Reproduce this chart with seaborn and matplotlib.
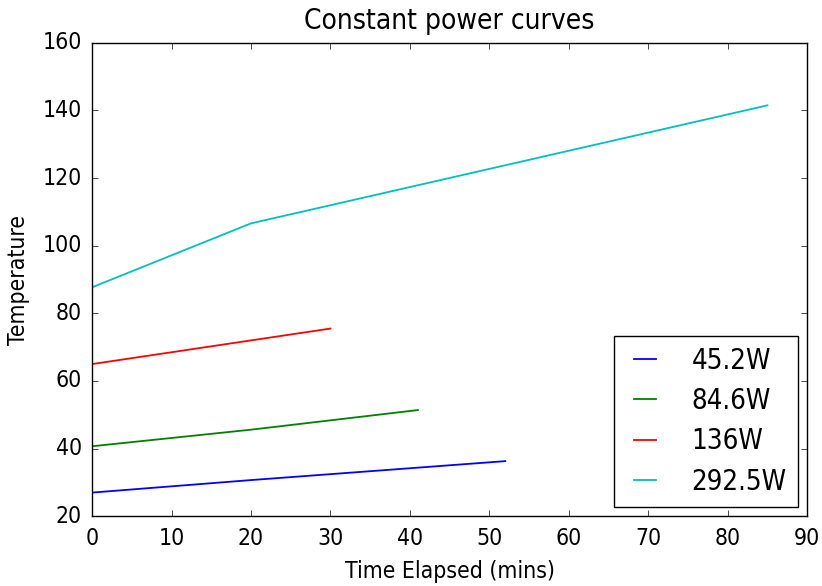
import matplotlib
matplotlib.use("Agg")
import matplotlib.pyplot as plt
from matplotlib import font_manager
import seaborn as sns
import pandas as pd

labels = ["45.2W", "84.6W", "136W", "292.5W"]
t_45 = [0, 20, 52]
y_45 = [27.0, 30.7, 36.3]
t_84 = [0, 20, 41]
y_84 = [40.7, 45.6, 51.4]
t_136 = [0, 30]
y_136 = [65.0, 75.5]
t_292 = [0, 20, 85]
y_292 = [87.7, 106.6, 141.5]

plt.style.use("classic")
plt.rcParams["font.family"] = ["DejaVu Sans"]
fp = font_manager.FontProperties(family="DejaVu Sans", stretch="condensed")
fname = font_manager.findfont(fp)
condensed = "Condensed" in fname
plt.rcParams["font.stretch"] = "condensed"
base = 16.5 if condensed else 15.0
plt.rcParams["font.size"] = base
plt.rcParams["xtick.major.pad"] = 8
plt.rcParams["ytick.major.pad"] = 7.5

rows = []
for lab, ts, ys in zip(labels, [t_45, t_84, t_136, t_292], [y_45, y_84, y_136, y_292]):
    for t, y in zip(ts, ys):
        rows.append({"t": t, "y": y, "power": lab})
df = pd.DataFrame(rows)

fig = plt.figure(figsize=(8.22, 5.86), dpi=100)
ax = fig.add_axes([0.112, 0.119, 0.870, 0.808])
sns.lineplot(data=df, x="t", y="y", hue="power", hue_order=labels,
             palette=["b", "g", "r", "c"], sort=False, ax=ax, linewidth=1.3)
ax.set_xlim(0, 90)
ax.set_ylim(20, 160)
ax.set_xlabel("Time Elapsed (mins)", labelpad=7)
ax.set_ylabel("Temperature", labelpad=9)
ax.set_title("Constant power curves", fontsize=base * 1.22, pad=10)
ax.legend(loc="lower right", fontsize=base * 1.2, handlelength=1.4,
          handletextpad=1.0, labelspacing=0.45, borderaxespad=0.35)
fig.savefig("out.png", dpi=100)
